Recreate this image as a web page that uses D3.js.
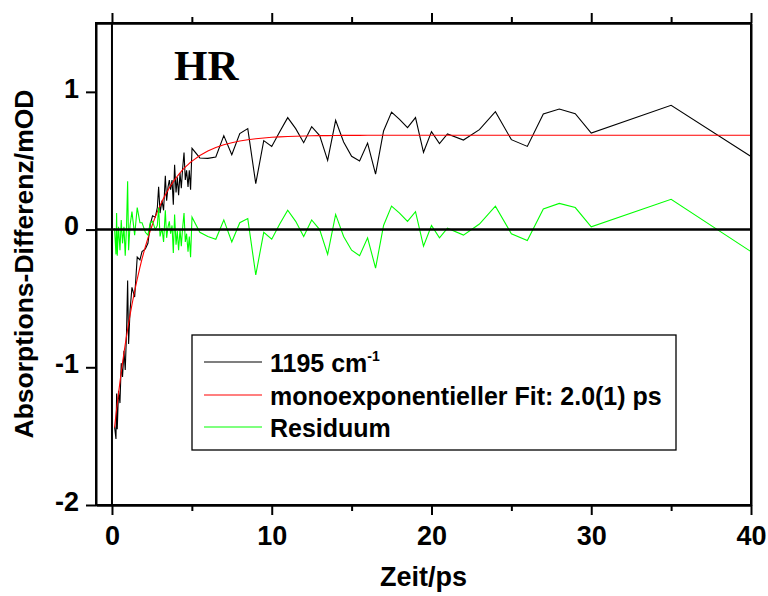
<!DOCTYPE html>
<html><head><meta charset="utf-8">
<script src="https://cdn.jsdelivr.net/npm/d3@7"></script>
<style>body{margin:0;background:#fff}svg{display:block}</style>
</head><body>
<svg id="c" width="768" height="596"></svg>
<script>
const times = [0.16,0.25,0.29,0.33,0.41,0.50,0.58,0.66,0.75,0.83,0.91,0.98,1.04,1.13,1.25,1.42,1.58,1.75,1.88,2.09,2.25,2.40,2.54,2.71,2.84,2.92,3.01,3.13,3.23,3.34,3.42,3.51,3.59,3.67,3.76,3.84,3.92,4.01,4.09,4.17,4.26,4.34,4.42,4.51,4.59,4.67,4.76,4.84,4.92,5.01,
5.5,6,6.5,7,7.5,8,8.5,9,9.5,10,10.5,11,11.5,12,12.5,13,13.5,14,14.5,15,15.5,16,16.5,17,17.5,18,18.5,19,19.5,20,20.5,21,
22,23,24,25,26,27,28,29,30,35,40];
const signal = [-1.43,-1.52,-1.19,-1.45,-1.17,-1.26,-0.97,-1.07,-0.88,-1.02,-0.75,-0.37,-0.83,-0.59,-0.42,-0.49,-0.20,-0.22,-0.16,-0.14,-0.10,0.04,0.10,0.09,0.16,0.31,0.12,0.21,0.14,0.39,0.21,0.31,0.36,0.29,0.36,0.18,0.47,0.27,0.38,0.25,0.41,0.30,0.44,0.56,0.36,0.43,0.31,0.43,0.29,0.59,
0.52,0.517,0.527,0.682,0.544,0.697,0.733,0.334,0.646,0.604,0.711,0.813,0.733,0.631,0.747,0.682,0.503,0.793,0.636,0.532,0.498,0.628,0.403,0.716,0.853,0.800,0.740,0.813,0.561,0.711,0.624,0.694,
0.650,0.726,0.856,0.653,0.604,0.839,0.875,0.842,0.701,0.902,0.530];
const fit = [-1.438,-1.345,-1.305,-1.265,-1.189,-1.106,-1.036,-0.968,-0.896,-0.834,-0.774,-0.724,-0.682,-0.622,-0.546,-0.446,-0.359,-0.274,-0.213,-0.124,-0.062,-0.008,0.039,0.092,0.129,0.151,0.174,0.204,0.228,0.252,0.269,0.287,0.303,0.318,0.334,0.348,0.361,0.375,0.387,0.399,0.412,0.422,0.433,0.444,0.453,0.462,0.472,0.481,0.489,0.497,
0.538,0.570,0.596,0.616,0.631,0.643,0.652,0.659,0.665,0.670,0.673,0.676,0.678,0.679,0.681,0.682,0.682,0.683,0.684,0.684,0.684,0.685,0.685,0.685,0.685,0.685,0.685,0.685,0.685,0.685,0.685,0.685,
0.685,0.685,0.685,0.685,0.685,0.685,0.685,0.685,0.685,0.685,0.685];
const residual = [0.01,-0.18,0.12,-0.19,0.02,-0.15,0.07,-0.10,0.02,-0.19,0.02,0.35,-0.15,0.03,0.13,-0.04,0.16,0.05,0.05,-0.02,-0.04,0.05,0.06,0.00,0.03,0.16,-0.05,0.01,-0.09,0.14,-0.06,0.02,0.06,-0.03,0.03,-0.17,0.11,-0.11,-0.01,-0.15,0.00,-0.12,0.01,0.12,-0.09,-0.03,-0.16,-0.05,-0.20,0.09,
-0.02,-0.05,-0.07,0.07,-0.09,0.05,0.08,-0.33,-0.02,-0.07,0.04,0.14,0.06,-0.05,0.07,0.00,-0.18,0.11,-0.05,-0.15,-0.19,-0.06,-0.28,0.03,0.17,0.12,0.06,0.13,-0.12,0.03,-0.06,0.01,
-0.04,0.04,0.17,-0.03,-0.08,0.15,0.19,0.16,0.02,0.22,-0.16];
const xMajorTicks = [0,10,20,30,40];
const xMinorTicks = [5,15,25,35];
const yTicks = [-2,-1,0,1];
const yTickLabels = ["-2","-1","0","1"];
const legendLabels = ["1195 cm", "monoexponentieller Fit: 2.0(1) ps", "Residuum"];
const seriesColors = ["#000000","#ff0000","#00ff00"];

const svg = d3.select("#c");
const L = 96, R = 751, T = 23, B = 505;
const x = d3.scaleLinear().domain([-1,40]).range([L,R]);
const y = d3.scaleLinear().domain([-2,1.5]).range([B,T]);
const font = "'Liberation Sans', Arial, sans-serif";

// series
const series = [signal, fit, residual];
const line = d3.line().x(d=>x(d[0])).y(d=>y(d[1]));
series.forEach((s,i)=>{
  svg.append("path").datum(times.map((t,j)=>[t,s[j]]))
    .attr("d",line).attr("fill","none").attr("stroke",seriesColors[i]).attr("stroke-width",1.1);
});

// zero lines
svg.append("line").attr("x1",L).attr("x2",R).attr("y1",y(0)).attr("y2",y(0)).attr("stroke","#000").attr("stroke-width",2.5);
svg.append("line").attr("x1",x(0)).attr("x2",x(0)).attr("y1",T).attr("y2",B).attr("stroke","#000").attr("stroke-width",2);

// axes
const gB = svg.append("g").attr("transform",`translate(0,${B})`)
  .call(d3.axisBottom(x).tickValues(xMajorTicks).tickSize(10).tickSizeOuter(0).tickFormat(d3.format("d")));
const gBm = svg.append("g").attr("transform",`translate(0,${B})`)
  .call(d3.axisBottom(x).tickValues(xMinorTicks).tickSize(6).tickSizeOuter(0).tickFormat(""));
const gT = svg.append("g").attr("transform",`translate(0,${T})`)
  .call(d3.axisTop(x).tickValues(xMajorTicks).tickSize(10).tickSizeOuter(0).tickFormat(""));
const gTm = svg.append("g").attr("transform",`translate(0,${T})`)
  .call(d3.axisTop(x).tickValues(xMinorTicks).tickSize(6).tickSizeOuter(0).tickFormat(""));
const gL = svg.append("g").attr("transform",`translate(${L},0)`)
  .call(d3.axisLeft(y).tickValues(yTicks).tickSize(10).tickSizeOuter(0).tickPadding(7).tickFormat((d,i)=>yTickLabels[i]));
const gR = svg.append("g").attr("transform",`translate(${R},0)`)
  .call(d3.axisRight(y).tickValues([]).tickSizeOuter(0));
[gB,gBm,gT,gTm,gL,gR].forEach(g=>{
  g.selectAll("path.domain").attr("stroke","#000").attr("stroke-width",2);
  g.selectAll(".tick line").attr("stroke","#000").attr("stroke-width",2);
  g.selectAll("text").attr("fill","#000").style("font-family",font).style("font-weight","bold").style("font-size","27px");
});
gB.selectAll("text").attr("dy","1.0em");
gL.selectAll("text").attr("dy","0.2em");
// frame
svg.append("rect").attr("x",L).attr("y",T).attr("width",R-L).attr("height",B-T).attr("fill","none").attr("stroke","#000").attr("stroke-width",2);

// axis titles
svg.append("text").attr("x",(L+R)/2).attr("y",586).attr("text-anchor","middle")
  .style("font-family",font).style("font-weight","bold").style("font-size","27px").text("Zeit/ps");
svg.append("text").attr("transform",`translate(33,${(T+B)/2}) rotate(-90)`).attr("text-anchor","middle")
  .style("font-family",font).style("font-weight","bold").style("font-size","26.5px").text("Absorptions-Differenz/mOD");

// HR
svg.append("text").attr("x",174).attr("y",80).style("font-family","'Liberation Serif','Times New Roman',serif")
  .style("font-weight","bold").style("font-size","43px").text("HR");

// legend
const lg = svg.append("g");
lg.append("rect").attr("x",192).attr("y",335).attr("width",484).attr("height",115).attr("fill","#fff").attr("stroke","#000").attr("stroke-width",1.3);
const rowsY = [362,395,427];
legendLabels.forEach((lab,i)=>{
  lg.append("line").attr("x1",204).attr("x2",262).attr("y1",rowsY[i]).attr("y2",rowsY[i]).attr("stroke",seriesColors[i]).attr("stroke-width",1.1);
  const t = lg.append("text").attr("x",270).attr("y",rowsY[i]+9.5).style("font-family",font).style("font-weight","bold").style("font-size","25px").text(lab);
  if(i===0){ t.append("tspan").attr("dy",-11).style("font-size","14px").text("-1"); }
});
</script>
</body></html>
